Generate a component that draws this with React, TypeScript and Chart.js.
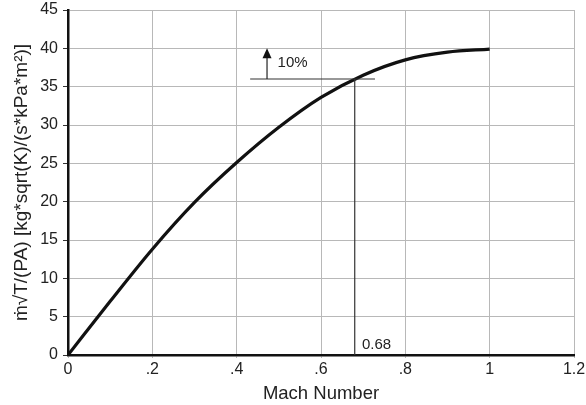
import React, { useEffect, useRef } from "react";
import { Chart, registerables } from "chart.js";

Chart.register(...registerables);

const machNumbers = [0, 0.1, 0.2, 0.3, 0.4, 0.5, 0.6, 0.7, 0.8, 0.9, 1.0];
const flowParameter = [0, 7.0, 13.8, 19.9, 25.1, 29.7, 33.6, 36.5, 38.5, 39.5, 39.9];

const markerLineX = [0.432, 0.728];
const markerLineY = [36, 36];
const dropLineX = [0.68, 0.68];
const dropLineY = [0, 36];
const arrowX = 0.472;
const arrowFrom = 36;
const arrowTo = 40;
const pctLabel = { text: "10%", x: 0.497, y: 37.6 };
const machLabel = { text: "0.68", x: 0.697, y: 0.8 };

const xTicks = [0, 0.2, 0.4, 0.6, 0.8, 1.0, 1.2];

const FONT = "'Liberation Sans', Arial, sans-serif";

const annotationPlugin = {
  id: "annot",
  afterDatasetsDraw(chart: any) {
    const { ctx, scales } = chart;
    const xs = scales.x;
    const ys = scales.y;
    ctx.save();
    const ax = xs.getPixelForValue(arrowX);
    const y0 = ys.getPixelForValue(arrowFrom);
    const y1 = ys.getPixelForValue(arrowTo);
    ctx.strokeStyle = "#222";
    ctx.lineWidth = 1.2;
    ctx.beginPath();
    ctx.moveTo(ax, y0);
    ctx.lineTo(ax, y1 + 8);
    ctx.stroke();
    ctx.fillStyle = "#111";
    ctx.beginPath();
    ctx.moveTo(ax, y1);
    ctx.lineTo(ax - 4.5, y1 + 10);
    ctx.lineTo(ax + 4.5, y1 + 10);
    ctx.closePath();
    ctx.fill();
    ctx.fillStyle = "#222";
    ctx.font = "15px " + FONT;
    ctx.textAlign = "left";
    ctx.textBaseline = "alphabetic";
    ctx.fillText(pctLabel.text, xs.getPixelForValue(pctLabel.x), ys.getPixelForValue(pctLabel.y));
    ctx.fillText(machLabel.text, xs.getPixelForValue(machLabel.x), ys.getPixelForValue(machLabel.y));
    ctx.restore();
  },
};

export default function App() {
  const ref = useRef<HTMLCanvasElement | null>(null);
  useEffect(() => {
    document.body.style.margin = "0";
    if (!ref.current) return;
    const chart = new Chart(ref.current, {
      type: "scatter",
      data: {
        datasets: [
          {
            data: markerLineX.map((x, i) => ({ x, y: markerLineY[i] })),
            showLine: true,
            borderColor: "#333",
            borderWidth: 1.2,
            pointRadius: 0,
          },
          {
            data: dropLineX.map((x, i) => ({ x, y: dropLineY[i] })),
            showLine: true,
            borderColor: "#333",
            borderWidth: 1.2,
            pointRadius: 0,
          },
          {
            data: machNumbers.map((x, i) => ({ x, y: flowParameter[i] })),
            showLine: true,
            borderColor: "#111",
            borderWidth: 3.2,
            pointRadius: 0,
            cubicInterpolationMode: "monotone",
          },
        ],
      },
      options: {
        animation: false,
        responsive: false,
        layout: { padding: { left: 0, right: 12, top: 10, bottom: 0 } },
        plugins: { legend: { display: false }, tooltip: { enabled: false } },
        scales: {
          x: {
            type: "linear",
            min: 0,
            max: 1.2,
            afterBuildTicks(scale: any) {
              scale.ticks = xTicks.map((v) => ({ value: v }));
            },
            afterFit(scale: any) {
              scale.height = 50;
              scale.paddingLeft = 0;
              scale.paddingRight = 0;
            },
            ticks: {
              color: "#222",
              font: { family: FONT, size: 16 },
              padding: 2,
              maxRotation: 0,
              callback: (v: any) => {
                const n = Number(v);
                if (n === 0) return "0";
                if (Math.abs(n - 1) < 1e-9) return "1";
                return n.toFixed(1).replace(/^0/, "");
              },
            },
            grid: { color: "#b8b8b8", lineWidth: 1, drawTicks: true, tickLength: 3, tickColor: "#b8b8b8" },
            border: { color: "#111", width: 2.5 },
            title: {
              display: true,
              text: "Mach Number",
              color: "#222",
              font: { family: FONT, size: 18.5 },
              padding: { top: 0, bottom: 0 },
            },
          },
          y: {
            min: 0,
            max: 45,
            afterFit(scale: any) {
              scale.width = 68;
              scale.paddingTop = 0;
              scale.paddingBottom = 0;
            },
            ticks: {
              stepSize: 5,
              color: "#222",
              font: { family: FONT, size: 16 },
              padding: 5,
            },
            grid: { color: "#b8b8b8", lineWidth: 1, tickLength: 5, tickColor: "#333" },
            border: { color: "#111", width: 2.5 },
            title: {
              display: true,
              text: "ṁ√T/(PA) [kg*sqrt(K)/(s*kPa*m²)]",
              color: "#222",
              font: { family: FONT, size: 19 },
              padding: { top: 10, bottom: 0 },
            },
          },
        },
      },
      plugins: [annotationPlugin],
    } as any);
    return () => chart.destroy();
  }, []);
  return (
    <div style={{ width: 586, height: 405 }}>
      <canvas ref={ref} width={586} height={405} />
    </div>
  );
}
